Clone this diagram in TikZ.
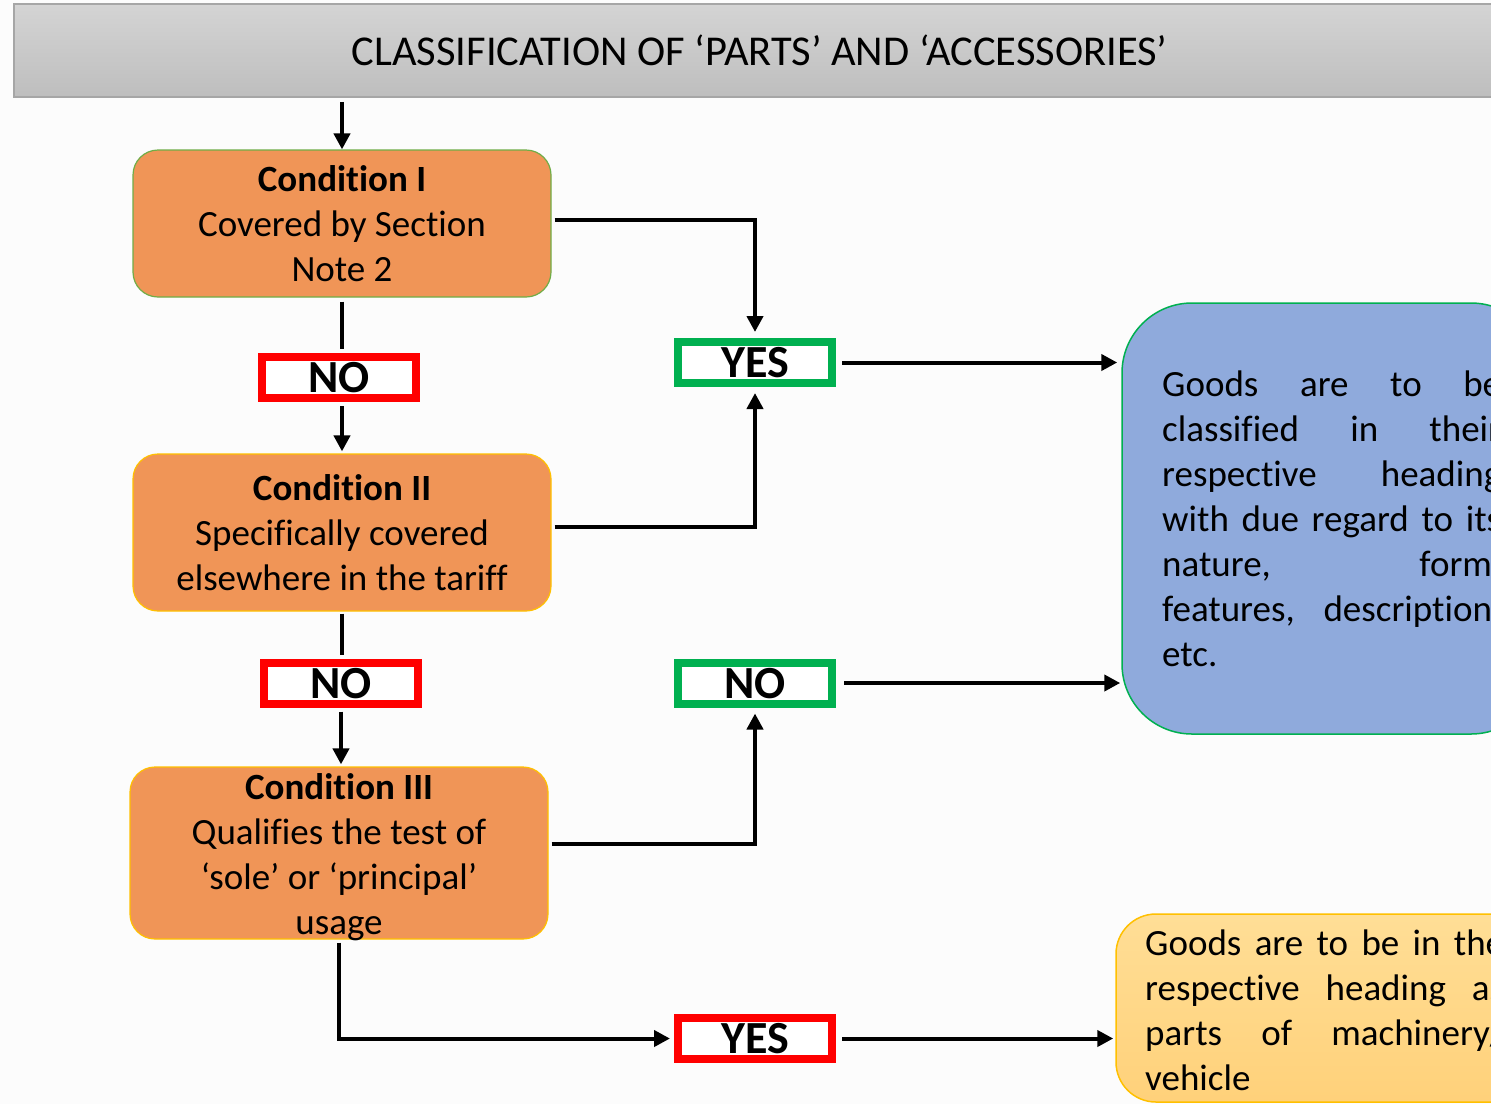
\documentclass[tikz,border=0pt]{standalone}
\usepackage{fontspec}
\setmainfont{Carlito}[Ligatures={TeX,NoCommon}]
\usetikzlibrary{arrows.meta}

\definecolor{pagebg}{RGB}{252,252,252}
\definecolor{bartop}{RGB}{212,212,212}
\definecolor{barbot}{RGB}{190,190,190}
\definecolor{barline}{RGB}{166,166,166}
\definecolor{condfill}{RGB}{240,149,87}
\definecolor{leafgreen}{RGB}{112,173,71}
\definecolor{gold}{RGB}{255,192,0}
\definecolor{okgreen}{RGB}{0,176,80}
\definecolor{stopred}{RGB}{255,0,0}
\definecolor{resultblue}{RGB}{143,170,220}
\definecolor{resultyellowtop}{RGB}{255,222,150}
\definecolor{resultyellowbot}{RGB}{255,209,122}

\newcommand{\bodysize}{\fontsize{37}{45}\selectfont}
% one justified line of a given width (interword spaces stretched)
\newcommand{\justline}[2]{\makebox[#1pt][s]{\spaceskip=0pt\xspaceskip=0pt #2}}

\begin{document}
\begin{tikzpicture}[x=1pt,y=-1pt,
  titlebar/.style={rectangle, draw=barline, line width=1.5pt, top color=bartop, bottom color=barbot,
    minimum width=1491pt, minimum height=93pt, inner sep=0pt, font=\fontsize{42.5}{50}\selectfont},
  condbox/.style={rectangle, rounded corners=25pt, fill=condfill, line width=1.2pt,
    minimum width=418pt, inner sep=0pt},
  condtext/.style={align=center, font=\bodysize, inner sep=0pt},
  verdict/.style={rectangle, draw, line width=8pt, fill=white, minimum width=154pt, minimum height=41pt,
    inner sep=0pt, font=\fontsize{46}{46}\selectfont\bfseries, text height=30pt, text depth=0pt},
  result/.style={rectangle, line width=1.5pt, inner sep=0pt},
  resulttext/.style={anchor=base west, align=left, font=\bodysize, inner sep=0pt},
  link/.style={line width=4pt},
  arr/.style={link, -{Triangle[length=16pt,width=16pt]}},
]
\useasboundingbox (0,0) rectangle (1491,1104);
\clip (0,0) rectangle (1491,1104);
\fill[pagebg] (0,0) rectangle (1491,1104);

% heading bar
\node[titlebar] (title) at (759.5,50.5) {CLASSIFICATION OF ‘PARTS’ AND ‘ACCESSORIES’};

% the three conditions
\node[condbox, draw=leafgreen, minimum height=147pt] (c1) at (342,223.5) {};
\node[condtext] (c1t) at (c1.center) {\textbf{Condition I}\\Covered by Section\\Note 2};
\node[condbox, draw=gold, minimum height=157pt] (c2) at (342,532.5) {};
\node[condtext] (c2t) at (c2.center) {\textbf{Condition II}\\Specifically covered\\elsewhere in the tariff};
\node[condbox, draw=gold, minimum height=172pt] (c3) at (339,853) {};
\node[condtext] (c3t) at ([yshift=-4pt]c3.center) {\textbf{Condition III}\\Qualifies the test of\\‘sole’ or ‘principal’\\usage};

% answers
\node[verdict, draw=stopred] (no1) at (339,377.5) {NO};
\node[verdict, draw=stopred] (no2) at (341,683) {NO};
\node[verdict, draw=okgreen] (yes1) at (755,362.5) {YES};
\node[verdict, draw=okgreen] (no3) at (755,683) {NO};
\node[verdict, draw=stopred] (yes2) at (755,1038.5) {YES};

% outcomes
\node[result, rounded corners=70pt, fill=resultblue, draw=okgreen,
  minimum width=419pt, minimum height=431pt] (blue) at (1331.5,518.5) {};
\node[resulttext, text width=339pt] (bluet) at (1162,396) {%
  \justline{339}{Goods are to be}\\
  \justline{339}{classified in their}\\
  \justline{339}{respective heading}\\
  \justline{339}{with due regard to its}\\
  \justline{339}{nature, form,}\\
  \justline{339}{features, description,}\\
  etc.};

\node[result, rounded corners=40pt, top color=resultyellowtop, bottom color=resultyellowbot, draw=gold,
  minimum width=417pt, minimum height=188pt] (yellow) at (1324.5,1008) {};
\node[resulttext, text width=359pt] (yellowt) at (1145,955) {%
  \justline{359}{Goods are to be in the}\\
  \justline{359}{respective heading as}\\
  \justline{359}{parts of machinery/}\\
  vehicle};

% connectors
\draw[arr, shorten <=4pt] (title.south -| c1.north) -- (c1.north);
\draw[link, shorten <=4pt, shorten >=4pt] (c1.south) -- (c1.south |- no1.north);
\draw[arr, shorten <=4pt, shorten >=2pt] (c1.south |- no1.south) -- (c2.north);
\draw[link, shorten <=2pt, shorten >=4pt] (c2.south) -- (c2.south |- no2.north);
\draw[arr, shorten <=4pt, shorten >=2pt] (no2.south) -- (no2.south |- c3.north);

\draw[arr, shorten >=6pt] ([xshift=3pt,yshift=3.5pt]c1.east) -| (yes1.north);
\draw[arr, shorten >=6pt] ([xshift=3pt,yshift=5.5pt]c2.east) -| (yes1.south);
\draw[arr, shorten >=6pt] ([xshift=3pt,yshift=9pt]c3.east) -| (no3.south);
\draw[arr, shorten <=3pt, shorten >=4pt] (c3.south) |- (yes2.west);

\draw[arr, shorten <=6pt, shorten >=4pt] (yes1.east) -- (yes1.east -| blue.west);
\draw[arr, shorten <=8pt, shorten >=1pt] (no3.east) -- (no3.east -| blue.west);
\draw[arr, shorten <=6pt, shorten >=2pt] (yes2.east) -- (yes2.east -| yellow.west);
\end{tikzpicture}
\end{document}
